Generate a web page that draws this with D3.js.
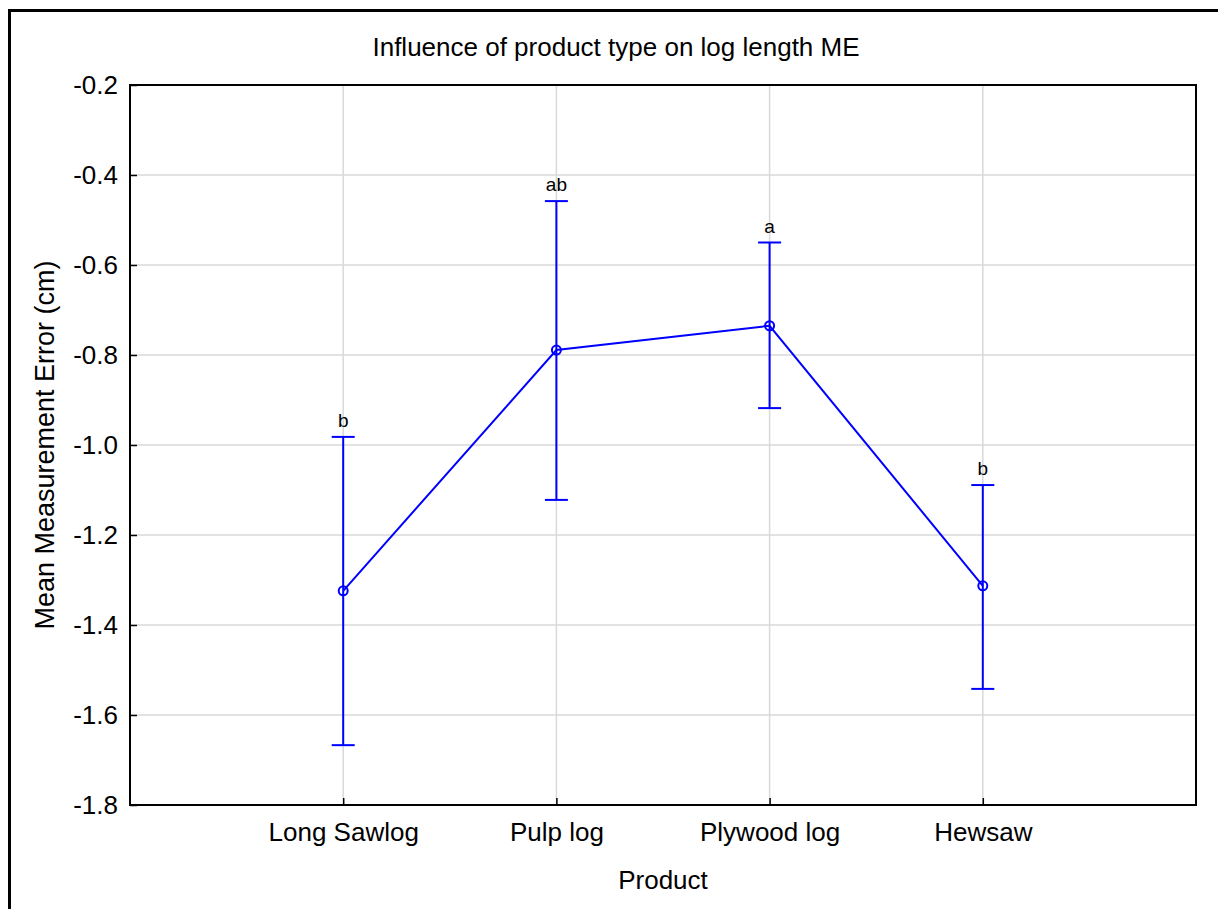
<!DOCTYPE html>
<html>
<head>
<meta charset="utf-8">
<script src="https://cdn.jsdelivr.net/npm/d3@7"></script>
<style>
  body { margin: 0; background: #fff; }
  text { font-family: "Liberation Sans", Arial, sans-serif; fill: #000; }
</style>
</head>
<body>
<div id="canvas"></div>
<script>
// Product categories on the x axis.
const products = ["Long Sawlog", "Pulp log", "Plywood log", "Hewsaw"];
// Mean measurement error and its confidence bounds (cm).
const means = [-1.324, -0.789, -0.735, -1.313];
const upper = [-0.982, -0.458, -0.550, -1.089];
const lower = [-1.667, -1.122, -0.918, -1.542];
// Letters from the post-hoc test.
const groups = ["b", "ab", "a", "b"];
// Y axis ticks.
const yTicks = [-0.2, -0.4, -0.6, -0.8, -1.0, -1.2, -1.4, -1.6, -1.8];

const W = 1218, H = 909;
const plotLeft = 130, plotRight = 1196, plotTop = 85, plotBottom = 805;
const blue = "#0000ff";

const svg = d3.select("#canvas").append("svg")
    .attr("width", W)
    .attr("height", H);

// Outer frame of the figure.
svg.append("rect")
    .attr("x", 9.5).attr("y", 10.5)
    .attr("width", W + 20).attr("height", H + 20)
    .attr("fill", "none")
    .attr("stroke", "#000")
    .attr("stroke-width", 3);

const x = d3.scaleLinear().domain([0, products.length + 1]).range([plotLeft, plotRight]);
const y = d3.scaleLinear().domain([-1.8, -0.2]).range([plotBottom, plotTop]);

// Grid lines.
svg.append("g").selectAll("line")
    .data(yTicks.slice(1, -1))
    .join("line")
    .attr("x1", plotLeft).attr("x2", plotRight)
    .attr("y1", d => y(d)).attr("y2", d => y(d))
    .attr("stroke", "#d9d9d9")
    .attr("stroke-width", 1.5);

svg.append("g").selectAll("line")
    .data(products)
    .join("line")
    .attr("x1", (d, i) => x(i + 1)).attr("x2", (d, i) => x(i + 1))
    .attr("y1", plotTop).attr("y2", plotBottom)
    .attr("stroke", "#d9d9d9")
    .attr("stroke-width", 1.5);

// Axes with inward ticks.
const yAxis = svg.append("g")
    .attr("transform", `translate(${plotLeft},0)`)
    .call(d3.axisLeft(y).tickValues(yTicks).tickSize(-7).tickPadding(12));

const xAxis = svg.append("g")
    .attr("transform", `translate(0,${plotBottom})`)
    .call(d3.axisBottom(x).tickValues(products.map((d, i) => i + 1))
        .tickFormat((d, i) => products[i]).tickSize(-7).tickPadding(18));

[yAxis, xAxis].forEach(a => {
    a.select(".domain").remove();
    a.selectAll(".tick line").attr("stroke", "#000").attr("stroke-width", 1.5);
    a.selectAll(".tick text")
        .attr("font-family", "Liberation Sans, Arial, sans-serif")
        .attr("font-size", 26)
        .attr("fill", "#000");
});
yAxis.selectAll(".tick text").text(d => d.toFixed(1));

// Plot border.
svg.append("rect")
    .attr("x", plotLeft).attr("y", plotTop)
    .attr("width", plotRight - plotLeft).attr("height", plotBottom - plotTop)
    .attr("fill", "none")
    .attr("stroke", "#000")
    .attr("stroke-width", 2);

// Error bars.
const bars = svg.append("g").selectAll("g")
    .data(products)
    .join("g");

bars.append("line")
    .attr("x1", (d, i) => x(i + 1)).attr("x2", (d, i) => x(i + 1))
    .attr("y1", (d, i) => y(upper[i])).attr("y2", (d, i) => y(lower[i]))
    .attr("stroke", blue).attr("stroke-width", 2);

[upper, lower].forEach(b => {
    bars.append("line")
        .attr("x1", (d, i) => x(i + 1) - 11.5).attr("x2", (d, i) => x(i + 1) + 11.5)
        .attr("y1", (d, i) => y(b[i])).attr("y2", (d, i) => y(b[i]))
        .attr("stroke", blue).attr("stroke-width", 2);
});

// Group letters.
bars.append("text")
    .attr("x", (d, i) => x(i + 1))
    .attr("y", (d, i) => y(upper[i]) - 10)
    .attr("text-anchor", "middle")
    .attr("font-size", 19)
    .text((d, i) => groups[i]);

// Mean line and markers.
svg.append("path")
    .datum(means)
    .attr("d", d3.line().x((d, i) => x(i + 1)).y(d => y(d)))
    .attr("fill", "none")
    .attr("stroke", blue)
    .attr("stroke-width", 2);

svg.append("g").selectAll("circle")
    .data(means)
    .join("circle")
    .attr("cx", (d, i) => x(i + 1))
    .attr("cy", d => y(d))
    .attr("r", 4.5)
    .attr("fill", "none")
    .attr("stroke", blue)
    .attr("stroke-width", 2);

// Titles.
svg.append("text")
    .attr("x", 616).attr("y", 56)
    .attr("text-anchor", "middle")
    .attr("font-size", 26)
    .text("Influence of product type on log length ME");

svg.append("text")
    .attr("x", (plotLeft + plotRight) / 2).attr("y", 889)
    .attr("text-anchor", "middle")
    .attr("font-size", 26)
    .text("Product");

svg.append("text")
    .attr("transform", `translate(54,${(plotTop + plotBottom) / 2}) rotate(-90)`)
    .attr("text-anchor", "middle")
    .attr("font-size", 27)
    .text("Mean Measurement Error (cm)");
</script>
</body>
</html>
